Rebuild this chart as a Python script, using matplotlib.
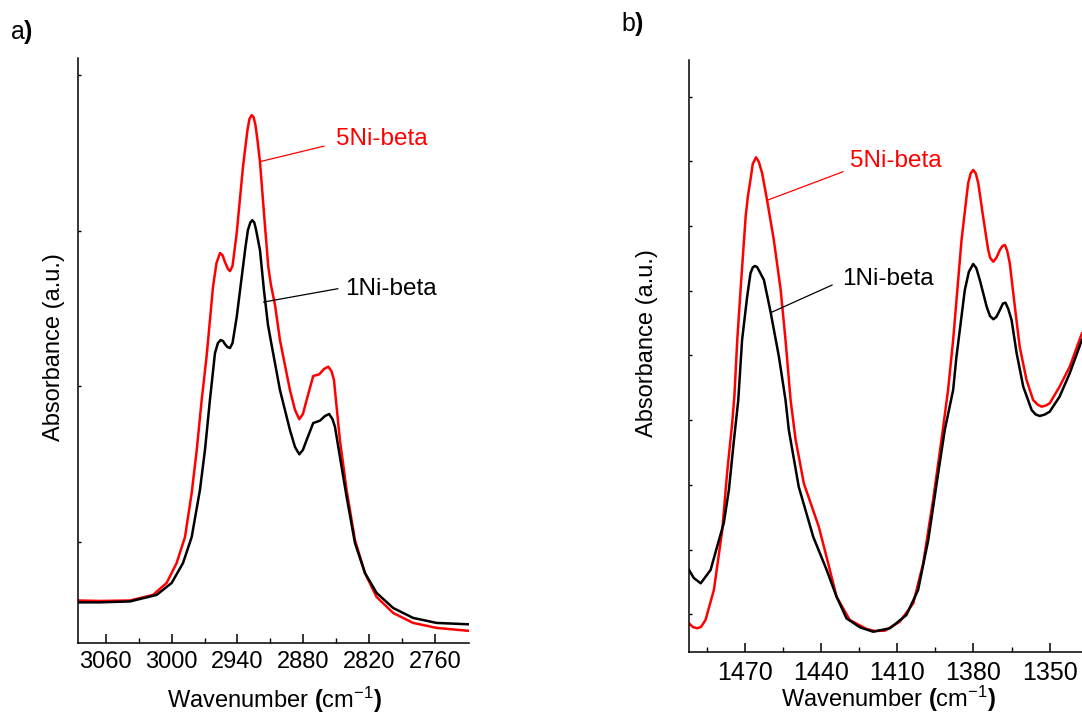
import matplotlib
matplotlib.use("Agg")
import matplotlib.pyplot as plt

plt.rcParams['font.family'] = ['Liberation Sans', 'DejaVu Sans']
plt.rcParams['mathtext.fontset'] = 'custom'
plt.rcParams['mathtext.rm'] = 'Liberation Sans'
plt.rcParams['mathtext.bf'] = 'Liberation Sans:bold'
plt.rcParams['mathtext.default'] = 'regular'

# ---------------- Panel a data (C-H stretching region) ----------------
wn_a_red = [3085, 3065.2, 3037.9, 3016.9, 3004.5, 2995.4, 2987.8, 2981.7, 2977.1, 2972.6,
            2968.0, 2962.3, 2959.1, 2955.9, 2953.7, 2951.4, 2948.6, 2946.8, 2944.5, 2940.7,
            2935.0, 2932.7, 2930.9, 2929.1, 2927.1, 2925.4, 2923.6, 2921.8, 2919.5, 2915.0,
            2911.9, 2909.5, 2905.8, 2901.3, 2892.2, 2887.6, 2883.7, 2880.4, 2877.0, 2871.0,
            2865.5, 2861.2, 2857.3, 2854.4, 2852.1, 2846.7, 2840.6, 2833.0, 2823.9, 2813.3,
            2798.2, 2780.0, 2758.7, 2729.3]
abs_a_red = [0.0624, 0.0621, 0.0624, 0.0660, 0.0737, 0.0865, 0.1032, 0.1315, 0.1591, 0.1912,
             0.2201, 0.2638, 0.2792, 0.2856, 0.2843, 0.2798, 0.2753, 0.2740, 0.2773, 0.2984,
             0.3408, 0.3543, 0.3646, 0.3717, 0.3742, 0.3730, 0.3678, 0.3582, 0.3441, 0.3036,
             0.2766, 0.2651, 0.2522, 0.2297, 0.1976, 0.1848, 0.1788, 0.1822, 0.1912, 0.2066,
             0.2077, 0.2111, 0.2126, 0.2098, 0.2040, 0.1655, 0.1334, 0.1013, 0.0801, 0.0647,
             0.0544, 0.0480, 0.0448, 0.0429]

wn_a_blk = [3085, 3065.2, 3037.9, 3013.6, 2999.9, 2989.6, 2981.7, 2974.2, 2969.6, 2965.1,
            2960.5, 2957.8, 2955.3, 2953.2, 2951.4, 2949.1, 2946.8, 2944.5, 2940.7, 2935.0,
            2932.7, 2930.5, 2928.3, 2926.6, 2924.7, 2923.2, 2919.5, 2915.9, 2912.2, 2908.9,
            2901.3, 2892.2, 2887.6, 2883.7, 2880.4, 2877.0, 2871.0, 2864.9, 2860.3, 2856.5,
            2853.5, 2851.2, 2846.7, 2840.6, 2833.0, 2823.9, 2813.3, 2798.2, 2780.0, 2758.7,
            2729.3]
abs_a_blk = [0.0612, 0.0612, 0.0618, 0.0660, 0.0737, 0.0865, 0.1032, 0.1334, 0.1591, 0.1912,
             0.2213, 0.2278, 0.2297, 0.2291, 0.2271, 0.2252, 0.2246, 0.2278, 0.2445, 0.2766,
             0.2895, 0.3003, 0.3052, 0.3067, 0.3052, 0.3010, 0.2875, 0.2618, 0.2394, 0.2265,
             0.1976, 0.1719, 0.1610, 0.1563, 0.1591, 0.1655, 0.1764, 0.1779, 0.1809, 0.1822,
             0.1790, 0.1740, 0.1548, 0.1291, 0.0994, 0.0801, 0.0673, 0.0576, 0.0512, 0.0480,
             0.0471]

xticks_a = [3060, 3000, 2940, 2880, 2820, 2760]
xminor_a = [3030, 2970, 2910, 2850, 2790]
yticks_a = [0.1, 0.2, 0.3, 0.4]

# ---------------- Panel b data (C-H bending region) ----------------
wn_b_red = [1492.0, 1490.5, 1488.8, 1487.3, 1485.5, 1482.2, 1478.9, 1477.0, 1475.0, 1474.1,
            1473.0, 1471.7, 1469.7, 1468.8, 1467.8, 1466.9, 1465.6, 1464.5, 1463.2, 1461.2,
            1458.6, 1455.9, 1454.0, 1452.0, 1450.0, 1446.8, 1440.9, 1437.2, 1433.9, 1428.7,
            1422.1, 1418.8, 1414.9, 1409.0, 1403.7, 1399.8, 1395.9, 1392.6, 1390.0, 1388.0,
            1384.7, 1382.1, 1381.1, 1380.1, 1379.1, 1378.1, 1376.2, 1374.2, 1373.4, 1372.2,
            1371.0, 1369.6, 1368.6, 1367.6, 1366.7, 1365.7, 1363.7, 1361.8, 1359.1, 1356.5,
            1354.8, 1353.2, 1351.5, 1350.0, 1346.1, 1342.1, 1337.3]
abs_b_red = [0.0861, 0.0804, 0.0784, 0.0804, 0.0912, 0.1376, 0.2303, 0.3184, 0.3952, 0.4390,
             0.5240, 0.6013, 0.7145, 0.7465, 0.7713, 0.7961, 0.8063, 0.7992, 0.7816, 0.7388,
             0.6785, 0.6012, 0.5240, 0.4312, 0.3694, 0.3025, 0.2354, 0.1788, 0.1272, 0.0912,
             0.0773, 0.0742, 0.0747, 0.0886, 0.1170, 0.1788, 0.2767, 0.3694, 0.4467, 0.5240,
             0.6785, 0.7662, 0.7815, 0.7867, 0.7815, 0.7662, 0.7145, 0.6631, 0.6507, 0.6450,
             0.6507, 0.6631, 0.6692, 0.6708, 0.6615, 0.6425, 0.5754, 0.5136, 0.4621, 0.4312,
             0.4243, 0.4209, 0.4227, 0.4261, 0.4518, 0.4827, 0.5343]

wn_b_blk = [1492.0, 1490.1, 1487.4, 1483.5, 1480.2, 1478.3, 1476.3, 1474.3, 1472.6, 1471.1,
            1469.1, 1467.8, 1466.9, 1466.1, 1465.2, 1464.2, 1462.5, 1459.9, 1456.6, 1454.0,
            1452.7, 1448.8, 1443.1, 1437.8, 1433.9, 1430.0, 1424.7, 1419.5, 1412.9, 1406.4,
            1401.8, 1397.8, 1393.9, 1391.3, 1388.0, 1386.7, 1383.4, 1381.8, 1380.1, 1378.9,
            1377.5, 1374.8, 1373.5, 1372.2, 1371.0, 1369.6, 1368.4, 1367.4, 1366.3, 1365.0,
            1363.0, 1360.4, 1357.1, 1355.5, 1353.9, 1351.9, 1350.0, 1346.1, 1342.1, 1337.3]
abs_b_blk = [0.1685, 0.1561, 0.1479, 0.1685, 0.2148, 0.2411, 0.2921, 0.3694, 0.4312, 0.5240,
             0.5909, 0.6270, 0.6360, 0.6383, 0.6368, 0.6295, 0.6167, 0.5677, 0.4981, 0.4312,
             0.3849, 0.2972, 0.2199, 0.1685, 0.1272, 0.0938, 0.0799, 0.0731, 0.0784, 0.0989,
             0.1376, 0.2148, 0.3179, 0.3849, 0.4467, 0.4981, 0.6013, 0.6295, 0.6414, 0.6352,
             0.6167, 0.5754, 0.5611, 0.5560, 0.5595, 0.5703, 0.5804, 0.5816, 0.5719, 0.5549,
             0.5034, 0.4518, 0.4158, 0.4088, 0.4065, 0.4088, 0.4131, 0.4363, 0.4725, 0.5240]

xticks_b = [1470, 1440, 1410, 1380, 1350]
xminor_b = [1485, 1455, 1425, 1395, 1365]
yticks_b = [0.1, 0.2, 0.3, 0.4, 0.5, 0.6, 0.7, 0.8, 0.9]

series_names = ['5Ni-beta', '1Ni-beta']
series_colors = ['#ff0000', '#000000']

W, H = 1082, 715
fig = plt.figure(figsize=(W / 100, H / 100), dpi=100)


def px_axes(l, r, t, b):
    return [l / W, 1 - b / H, (r - l) / W, (b - t) / H]


ax_a = fig.add_axes(px_axes(78.3, 469.1, 58.3, 643.3))
ax_b = fig.add_axes(px_axes(689, 1087, 60, 651.7))

for ax, xr, yr, xb, yb in [(ax_a, wn_a_red, abs_a_red, wn_a_blk, abs_a_blk),
                           (ax_b, wn_b_red, abs_b_red, wn_b_blk, abs_b_blk)]:
    ax.plot(xr, yr, color=series_colors[0], lw=1.8, solid_joinstyle='round')
    ax.plot(xb, yb, color=series_colors[1], lw=1.8, solid_joinstyle='round')

ax_a.set_xlim(3085, 2729)
ax_a.set_ylim(0.0349, 0.4107)
ax_b.set_xlim(1492.0, 1335.3)
ax_b.set_ylim(0.0422, 0.9567)

for ax, xt, xm, yt, fs, pd in [(ax_a, xticks_a, xminor_a, yticks_a, 17, 5.5),
                               (ax_b, xticks_b, xminor_b, yticks_b, 18, 6.5)]:
    ax.spines['top'].set_visible(False)
    ax.spines['right'].set_visible(False)
    ax.spines['left'].set_linewidth(1.1)
    ax.spines['bottom'].set_linewidth(1.1)
    ax.set_xticks(xt)
    ax.set_xticks(xm, minor=True)
    ax.set_yticks(yt)
    ax.set_yticklabels([])
    ax.tick_params(axis='x', which='major', direction='in', length=6.5, width=1.1,
                   labelsize=fs, pad=pd)
    ax.tick_params(axis='x', which='minor', direction='in', length=3.6, width=1.0)
    ax.tick_params(axis='y', which='major', direction='in', length=1.8, width=1.0)

xlabel = r'Wavenumber $\mathbf{(}$cm$^{-1}$$\mathbf{)}$'
ylabel = 'Absorbance (a.u.)'
for ax, xc, yc, yl_x, yl_y in [(ax_a, 274.5, 700, 54, 347.5), (ax_b, 888, 698.5, 647, 343)]:
    ax.set_xlabel(xlabel, fontsize=17, va='center')
    ax.xaxis.set_label_coords(xc / W, 1 - yc / H, transform=fig.transFigure)
    ax.set_ylabel(ylabel, fontsize=17, va='center')
    ax.yaxis.set_label_coords(yl_x / W, 1 - yl_y / H, transform=fig.transFigure)

# annotations (leader line from curve to label)
ann_a = [((2919.5, 0.3443), (2861.1, 0.3543), (2850.0, 0.3550)),
         ((2916.3, 0.2541), (2848.5, 0.2627), (2842.3, 0.2586))]
ann_b = [((1460.8, 0.7405), (1431.3, 0.7841), (1428.7, 0.7918)),
         ((1459.5, 0.5668), (1435.6, 0.6090), (1431.7, 0.6090))]
for ax, anns in [(ax_a, ann_a), (ax_b, ann_b)]:
    for (p0, p1, pt), name, col in zip(anns, series_names, series_colors):
        ax.annotate('', xy=p0, xytext=p1,
                    arrowprops=dict(arrowstyle='-', color=col, lw=0.9,
                                    shrinkA=0, shrinkB=0))
        ax.text(pt[0], pt[1], name, color=col, fontsize=17.5, ha='left', va='baseline')

fig.text(10 / W, 1 - 31.5 / H, r'a$\mathbf{)}$', fontsize=18, ha='left', va='center')
fig.text(621 / W, 1 - 24 / H, r'b$\mathbf{)}$', fontsize=18, ha='left', va='center')

fig.savefig('out.png', dpi=100)
